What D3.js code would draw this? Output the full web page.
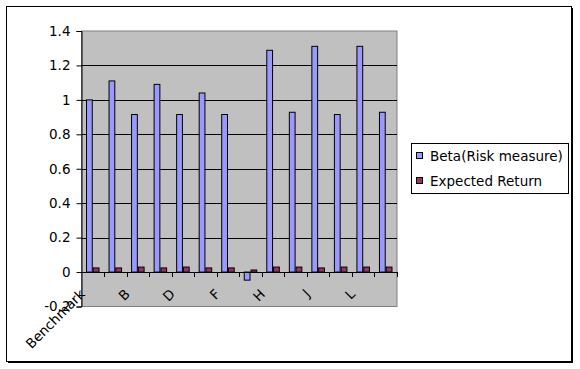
<!DOCTYPE html>
<html>
<head>
<meta charset="utf-8">
<script src="https://cdn.jsdelivr.net/npm/d3@7"></script>
<style>
  body { margin: 0; background: #fff; }
  svg { display: block; font-family: "DejaVu Sans", Verdana, sans-serif; }
</style>
</head>
<body>
<div id="chart"></div>
<script>
const categories = ['Benchmark', 'A', 'B', 'C', 'D', 'E', 'F', 'G', 'H', 'I', 'J', 'K', 'L', 'M'];
const seriesNames = ['Beta(Risk measure)', 'Expected Return'];
const beta = [1.00, 1.11, 0.915, 1.09, 0.915, 1.04, 0.915, -0.047, 1.288, 0.928, 1.311, 0.915, 1.311, 0.928];
const expectedReturn = [0.024, 0.024, 0.029, 0.024, 0.029, 0.024, 0.024, 0.012, 0.029, 0.029, 0.024, 0.029, 0.029, 0.029];
const yTicks = [-0.2, 0, 0.2, 0.4, 0.6, 0.8, 1, 1.2, 1.4];
const colors = ['#9999FF', '#993366'];

const width = 580, height = 369;
const plot = { left: 81.5, right: 397, top: 31, bottom: 306.5 };

const svg = d3.select('#chart').append('svg')
    .attr('width', width)
    .attr('height', height);

// Chart border with a small shadow
svg.append('rect')
    .attr('x', 8).attr('y', 8)
    .attr('width', 565).attr('height', 355)
    .attr('fill', '#000');
svg.append('rect')
    .attr('x', 6.5).attr('y', 6.5)
    .attr('width', 565).attr('height', 355)
    .attr('fill', '#fff')
    .attr('stroke', '#000');

const x = d3.scaleBand()
    .domain(categories)
    .range([plot.left, plot.right])
    .paddingInner(0.4)
    .paddingOuter(0.2);

const xSeries = d3.scaleBand()
    .domain(seriesNames)
    .range([0, x.bandwidth()]);

const y = d3.scaleLinear()
    .domain([-0.2, 1.4])
    .range([plot.bottom, plot.top]);

// Plot area
svg.append('rect')
    .attr('x', plot.left)
    .attr('y', plot.top)
    .attr('width', plot.right - plot.left)
    .attr('height', plot.bottom - plot.top)
    .attr('fill', '#C0C0C0')
    .attr('stroke', '#808080');

// Gridlines
svg.append('g')
    .selectAll('line')
    .data(yTicks.filter(d => d > -0.2 && d < 1.4))
    .join('line')
    .attr('x1', plot.left).attr('x2', plot.right)
    .attr('y1', d => Math.round(y(d)) + 0.5)
    .attr('y2', d => Math.round(y(d)) + 0.5)
    .attr('stroke', '#000');

// Bars
const data = categories.map((c, i) => ({ category: c, values: [beta[i], expectedReturn[i]] }));

const groups = svg.append('g')
    .selectAll('g')
    .data(data)
    .join('g')
    .attr('transform', d => `translate(${x(d.category)},0)`);

groups.selectAll('rect')
    .data(d => d.values.map((v, i) => ({ name: seriesNames[i], value: v, i })))
    .join('rect')
    .attr('x', d => xSeries(d.name) + 0.5)
    .attr('y', d => y(Math.max(0, d.value)))
    .attr('width', xSeries.bandwidth() - 1)
    .attr('height', d => Math.abs(y(d.value) - y(0)))
    .attr('fill', d => colors[d.i])
    .attr('stroke', '#000');

// Y axis
const yAxis = svg.append('g')
    .attr('transform', `translate(${plot.left},0)`)
    .call(d3.axisLeft(y).tickValues(yTicks).tickSize(5).tickPadding(6).tickFormat(d3.format('')));
yAxis.select('.domain').attr('stroke', '#000');
yAxis.selectAll('text').attr('font-size', 13.5).attr('fill', '#000')
    .attr('font-family', '"DejaVu Sans", Verdana, sans-serif')
    .text(d => String(d).replace('\u2212', '-'));

// X axis on the zero line
const step = x.step();
const boundaries = categories.map(c => x(c) - step * x.paddingInner() / 2).slice(1).concat([plot.right]);
svg.append('line')
    .attr('x1', plot.left).attr('x2', plot.right)
    .attr('y1', Math.round(y(0)) + 0.5).attr('y2', Math.round(y(0)) + 0.5)
    .attr('stroke', '#000');
svg.append('g')
    .selectAll('line')
    .data(boundaries)
    .join('line')
    .attr('x1', d => Math.round(d) + 0.5).attr('x2', d => Math.round(d) + 0.5)
    .attr('y1', Math.round(y(0))).attr('y2', Math.round(y(0)) + 5)
    .attr('stroke', '#000');

// Category labels, every second one
svg.append('g')
    .selectAll('text')
    .data(categories.filter((c, i) => i % 2 === 0))
    .join('text')
    .attr('transform', d => `translate(${x(d) + x.bandwidth() / 2 - 7},295) rotate(-45)`)
    .attr('text-anchor', 'end')
    .attr('font-size', 13.5)
    .text(d => d);

// Legend
const legend = svg.append('g').attr('transform', 'translate(411,143)');
legend.append('rect')
    .attr('x', 0.5).attr('y', 0.5)
    .attr('width', 157).attr('height', 50)
    .attr('fill', '#fff')
    .attr('stroke', '#000');
const items = legend.selectAll('g.item')
    .data(seriesNames)
    .join('g')
    .attr('class', 'item')
    .attr('transform', (d, i) => `translate(0,${i * 25})`);
items.append('rect')
    .attr('x', 5.5).attr('y', 9.5)
    .attr('width', 6).attr('height', 6)
    .attr('fill', (d, i) => colors[i])
    .attr('stroke', '#000');
items.append('text')
    .attr('x', 19)
    .attr('y', 18)
    .attr('font-size', 13.5)
    .text(d => d);
</script>
</body>
</html>
